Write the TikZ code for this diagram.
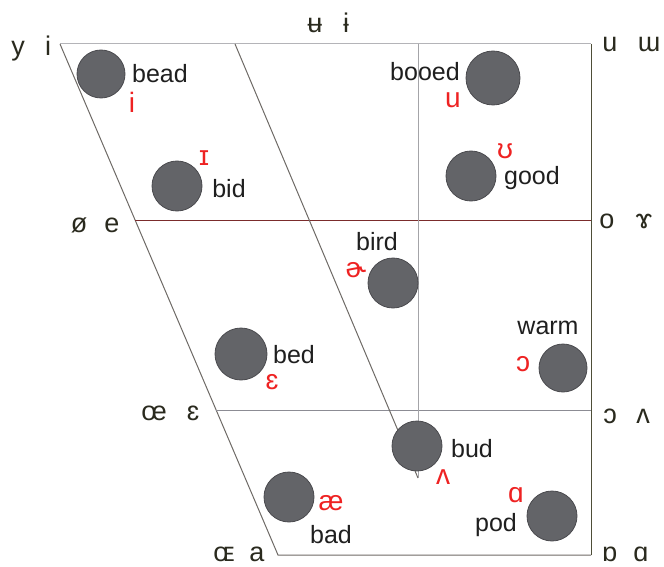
\documentclass[tikz,border=0pt]{standalone}
\usepackage{fontspec}
\setmainfont{Liberation Sans}
\usepackage{xcolor}
\usepackage{tikz}

\definecolor{dotgray}{HTML}{636468}
\definecolor{dotedge}{HTML}{4A4A4E}
\definecolor{ipared}{HTML}{EE2222}
\definecolor{cornerdark}{HTML}{2A2A1E}
\definecolor{edgegray}{HTML}{6E6A66}
\definecolor{topgray}{HTML}{B4B4B8}
\definecolor{rightolive}{HTML}{4E4E38}
\definecolor{midred}{HTML}{7B2C2C}
\definecolor{lowgray}{HTML}{8C8C94}
\definecolor{vertgray}{HTML}{A4A4A8}

\tikzset{
  vowel/.style={circle, fill=dotgray, draw=dotedge, line width=0.8pt, minimum size=50pt, inner sep=0pt},
  word/.style={anchor=base, inner sep=0pt, text=black!88, font=\fontsize{25}{28}\selectfont},
  ipa/.style={anchor=base, inner sep=0pt, text=ipared, font=\fontsize{28}{30}\selectfont},
  corner/.style={anchor=base, inner sep=0pt, text=cornerdark, font=\fontsize{27}{30}\selectfont},
  chart/.style={line width=1pt}
}

\begin{document}
\begin{tikzpicture}[x=1pt, y=-1pt]
  \useasboundingbox (0,0) rectangle (664,567);

  % chart outline
  \coordinate (tl) at (60,44);
  \coordinate (tr) at (591,44);
  \coordinate (br) at (591,555);
  \coordinate (bl) at (278,555);
  \coordinate (cl) at (135,220);
  \coordinate (cr) at (591,220);
  \coordinate (ol) at (216,410);
  \coordinate (or) at (591,410);
  \coordinate (mt) at (235,44);
  \coordinate (vt) at (418,44);
  \coordinate (mb) at (418,478);

  \draw[chart, topgray] (tl) -- (tr);
  \draw[chart, rightolive] (tr) -- (br);
  \draw[chart, edgegray] (br) -- (bl) -- (tl);
  \draw[chart, midred] (cl) -- (cr);
  \draw[chart, lowgray] (ol) -- (or);
  \draw[chart, edgegray] (mt) -- (mb);
  \draw[chart, vertgray] (vt) -- (mb);

  % vowels
  \node[vowel, minimum size=48pt] (bead) at (101,74) {};
  \node[vowel] (bid) at (177,186) {};
  \node[vowel, minimum size=54pt] (booed) at (493,78) {};
  \node[vowel] (good) at (471,176) {};
  \node[vowel] (bird) at (393,283) {};
  \node[vowel, minimum size=52pt] (bed) at (241,354) {};
  \node[vowel, minimum size=48pt] (warm) at (563,368) {};
  \node[vowel] (bud) at (417,446) {};
  \node[vowel] (bad) at (289,497) {};
  \node[vowel] (pod) at (552,516) {};

  % words
  \node[word] (w-bead) at (160,83) {bead};
  \node[word] (w-bid) at (229,197) {bid};
  \node[word] (w-booed) at (425,81) {booed};
  \node[word] (w-good) at (532,184) {good};
  \node[word] (w-bird) at (377,250) {bird};
  \node[word] (w-bed) at (294,363) {bed};
  \node[word] (w-warm) at (548,334) {warm};
  \node[word] (w-bud) at (472,457) {bud};
  \node[word] (w-bad) at (331,543) {bad};
  \node[word] (w-pod) at (496,531) {pod};

  % sounds
  \node[ipa] (s-bead) at (132,113) {i};
  \node[ipa] (s-bid) at (204,165) {ɪ};
  \node[ipa] (s-booed) at (453,108) {u};
  \node[ipa] (s-good) at (505,158) {ʊ};
  \node[ipa] (s-bird) at (356,277) {ɚ};
  \node[ipa] (s-bed) at (272,389) {ɛ};
  \node[ipa] (s-warm) at (523,371) {ɔ};
  \node[ipa] (s-bud) at (443,484) {ʌ};
  \node[ipa] (s-bad) at (331,510) {æ};
  \node[ipa] (s-pod) at (516,502) {ɑ};

  % corner symbols
  \node[corner] (c1a) at (18,56) {y};
  \node[corner] (c1b) at (48,56) {i};
  \node[corner] (c2a) at (315,33) {ʉ};
  \node[corner] (c2b) at (346,33) {ɨ};
  \node[corner] (c3a) at (610,52) {u};
  \node[corner] (c3b) at (649,52) {ɯ};
  \node[corner] (c4a) at (79,232) {ø};
  \node[corner] (c4b) at (112,232) {e};
  \node[corner] (c5a) at (607,228) {o};
  \node[corner] (c5b) at (644,228) {ɤ};
  \node[corner] (c6a) at (154,420) {œ};
  \node[corner] (c6b) at (193,420) {ɛ};
  \node[corner] (c7a) at (610,423) {ɔ};
  \node[corner] (c7b) at (643,423) {ʌ};
  \node[corner] (c8a) at (224,561) {ɶ};
  \node[corner] (c8b) at (257,561) {a};
  \node[corner] (c9a) at (610,561) {ɒ};
  \node[corner] (c9b) at (641,561) {ɑ};
\end{tikzpicture}
\end{document}
